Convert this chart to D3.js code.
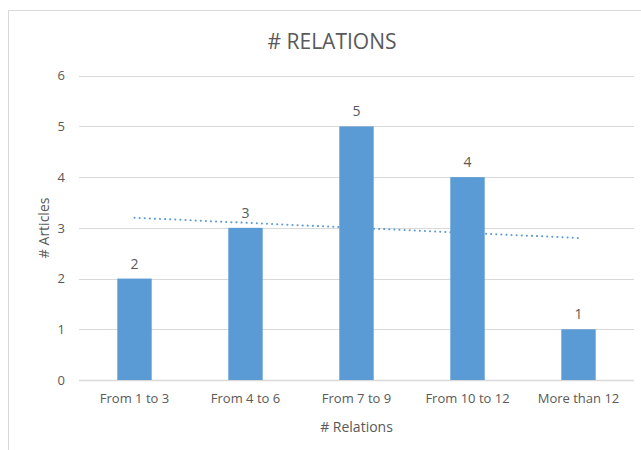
<!DOCTYPE html>
<html>
<head>
<meta charset="utf-8">
<script src="https://cdn.jsdelivr.net/npm/d3@7"></script>
<style>
  html, body { margin: 0; padding: 0; background: #fff; }
  svg text { font-family: "Liberation Sans Narrow", "Open Sans", "Noto Sans", sans-serif; fill: #595959; }
</style>
</head>
<body>
<svg id="chart" width="641" height="450"></svg>
<script>
// Number of articles per relation-count bucket
const categories = ["From 1 to 3", "From 4 to 6", "From 7 to 9", "From 10 to 12", "More than 12"];
const articles = [2, 3, 5, 4, 1];
const yTicks = [0, 1, 2, 3, 4, 5, 6];
// Linear trendline, start and end values at the first and last bucket
const trendEnds = [3.2, 2.8];

const svg = d3.select("#chart");
const plot = { left: 79, right: 634, top: 75.7, bottom: 380 };

// Chart area frame (extends past the right and bottom edges)
svg.append("rect")
  .attr("x", 8.5).attr("y", 10.5)
  .attr("width", 700).attr("height", 500)
  .attr("fill", "#fff").attr("stroke", "#d9d9d9").attr("stroke-width", 1);

const x = d3.scaleBand().domain(categories).range([plot.left, plot.right]).paddingInner(0.69).paddingOuter(0.345);
const y = d3.scaleLinear().domain([0, 6]).range([plot.bottom, plot.top]);

// Gridlines
svg.append("g").selectAll("line").data(yTicks).join("line")
  .attr("x1", plot.left).attr("x2", plot.right)
  .attr("y1", d => Math.round(y(d)) + 0.5).attr("y2", d => Math.round(y(d)) + 0.5)
  .attr("stroke", "#d9d9d9").attr("stroke-width", d => d === 0 ? 1.5 : 1);

// Y axis tick labels
const yAxis = d3.axisLeft(y).tickValues(yTicks).tickFormat(d3.format("d")).tickSize(0).tickPadding(14);
const gy = svg.append("g").attr("transform", `translate(${plot.left},0)`).call(yAxis);
gy.select(".domain").remove();
gy.selectAll("text").style("font-size", "13px");

// Bars
svg.append("g").selectAll("rect").data(articles).join("rect")
  .attr("x", (d, i) => x(categories[i]))
  .attr("y", d => y(d))
  .attr("width", x.bandwidth())
  .attr("height", d => y(0) - y(d))
  .attr("fill", "#5b9bd5");

// Value labels
svg.append("g").selectAll("text").data(articles).join("text")
  .attr("x", (d, i) => x(categories[i]) + x.bandwidth() / 2)
  .attr("y", d => y(d) - 10)
  .attr("text-anchor", "middle")
  .style("font-size", "14px")
  .text(d => d);

// X axis tick labels
const xAxis = d3.axisBottom(x).tickSize(0).tickPadding(14);
const gx = svg.append("g").attr("transform", `translate(0,${plot.bottom})`).call(xAxis);
gx.select(".domain").remove();
gx.selectAll("text").style("font-size", "13px");

// Trendline
const cx = c => x(c) + x.bandwidth() / 2;
svg.append("line")
  .attr("x1", cx(categories[0])).attr("y1", y(trendEnds[0]))
  .attr("x2", cx(categories[categories.length - 1])).attr("y2", y(trendEnds[1]))
  .attr("stroke", "#5b9bd5").attr("stroke-width", 2)
  .attr("stroke-linecap", "round").attr("stroke-dasharray", "0.1 5");

// Titles
svg.append("text").attr("x", 332).attr("y", 49).attr("text-anchor", "middle")
  .style("font-size", "21px").text("# RELATIONS");
svg.append("text").attr("x", (plot.left + plot.right) / 2).attr("y", 432).attr("text-anchor", "middle")
  .style("font-size", "14px").text("# Relations");
svg.append("text").attr("transform", `translate(49,${(plot.top + plot.bottom) / 2}) rotate(-90)`)
  .attr("text-anchor", "middle").style("font-size", "14px").text("# Articles");
</script>
</body>
</html>
